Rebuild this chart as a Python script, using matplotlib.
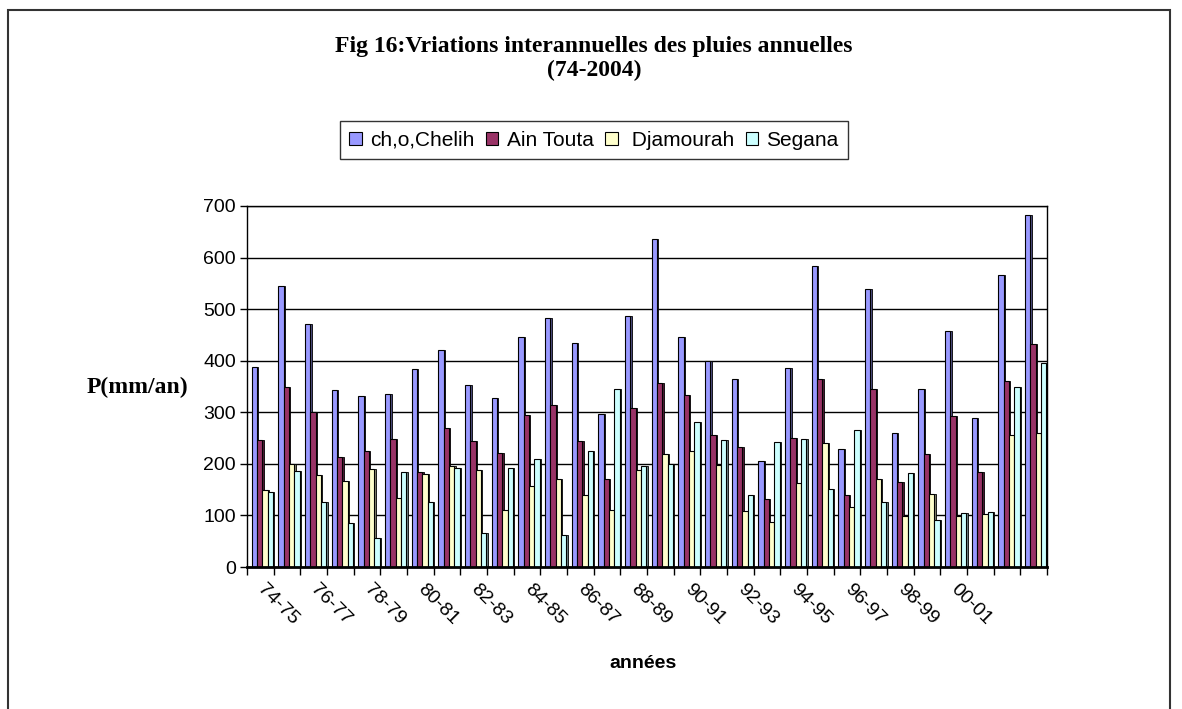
import numpy as np
import matplotlib
matplotlib.use("Agg")
import matplotlib.pyplot as plt
from matplotlib.patches import Patch, Rectangle
from matplotlib.transforms import ScaledTranslation

years = ["74-75", "75-76", "76-77", "77-78", "78-79", "79-80", "80-81", "81-82",
         "82-83", "83-84", "84-85", "85-86", "86-87", "87-88", "88-89", "89-90",
         "90-91", "91-92", "92-93", "93-94", "94-95", "95-96", "96-97", "97-98",
         "98-99", "99-00", "00-01", "01-02", "02-03", "03-04"]

chelih = [388, 545, 471, 343, 331, 335, 383, 420, 353, 327, 446, 483, 434, 296,
          487, 636, 446, 399, 364, 206, 385, 584, 228, 539, 259, 346, 458, 288,
          566, 682]
ain_touta = [246, 349, 300, 213, 224, 248, 184, 269, 244, 221, 295, 314, 244, 171,
             309, 356, 333, 255, 232, 132, 251, 365, 140, 345, 165, 220, 292, 185,
             361, 432]
djamourah = [150, 200, 178, 167, 190, 134, 180, 196, 189, 110, 157, 171, 139, 110,
             189, 220, 224, 198, 108, 87, 163, 240, 117, 170, 98, 142, 98, 103,
             255, 259]
segana = [145, 187, 127, 86, 57, 184, 126, 191, 66, 191, 209, 62, 225, 346,
          195, 200, 282, 247, 140, 242, 248, 151, 265, 127, 182, 92, 104, 106,
          350, 396]

# name, values, face colour, side (shadow) colour
series = [("ch,o,Chelih", chelih, "#9999FF", "#4D4D80"),
          ("Ain Touta", ain_touta, "#993366", "#4D1A33"),
          (" Djamourah", djamourah, "#FFFFCC", "#80806A"),
          ("Segana", segana, "#CCFFFF", "#6A8080")]

W, H = 1182, 709
fig = plt.figure(figsize=(W / 100, H / 100), dpi=100)
fig.patch.set_facecolor("white")

# outer chart frame
fig.add_artist(Rectangle((8 / W, -0.1), 1162 / W, 1.1 - 10 / H, transform=fig.transFigure,
                         fill=False, edgecolor="#333333", linewidth=1.5))

ax = fig.add_axes([247 / W, 1 - 567 / H, 800 / W, 361 / H])

x = np.arange(len(years))
bw = 0.2
for k, (name, vals, col, side) in enumerate(series):
    # fake 3d: dark side face behind the front face
    ax.bar(x + 0.27 + k * bw + 0.06, vals, width=bw, color=side, edgecolor="black",
           linewidth=0.6, zorder=3 + 2 * k)
    ax.bar(x + 0.27 + k * bw, vals, width=bw, color=col, edgecolor="black",
           linewidth=0.8, zorder=4 + 2 * k)

ax.set_xlim(0, len(years))
ax.set_ylim(0, 700)
ax.set_yticks(np.arange(0, 701, 100))
ax.yaxis.grid(True, color="black", linewidth=1, zorder=0)
ax.set_axisbelow(True)
for s in ax.spines.values():
    s.set_color("black")
    s.set_linewidth(1)
ax.spines["bottom"].set_linewidth(2)
ax.spines["bottom"].set_zorder(20)

ax.set_xticks(np.arange(len(years) + 1), minor=True)
ax.set_xticks(x[0:28:2] + 0.5)
ax.set_xticklabels(years[0:28:2], rotation=-45, ha="left", va="top",
                   rotation_mode="anchor", fontsize=14, family="Liberation Sans")
ax.tick_params(axis="x", which="major", length=0, pad=10)
ax.tick_params(axis="x", which="minor", length=6, width=1, direction="out")
ax.tick_params(axis="y", length=5, width=1, direction="out", labelsize=14, pad=3)
for t in ax.get_yticklabels():
    t.set_family("Liberation Sans")
off = ScaledTranslation(6 / 100, 0, fig.dpi_scale_trans)
for t in ax.get_xticklabels():
    t.set_transform(t.get_transform() + off)

fig.text(594 / W, 1 - 52 / H, "Fig 16:Vriations interannuelles des pluies annuelles",
         ha="center", va="baseline", fontsize=17, fontweight="bold", family="Liberation Serif")
fig.text(594 / W, 1 - 76 / H, "(74-2004)", ha="center", va="baseline",
         fontsize=17, fontweight="bold", family="Liberation Serif")

fig.text(137 / W, 1 - 387 / H, "P(mm/an)", ha="center", va="center",
         fontsize=17, fontweight="bold", family="Liberation Serif")
fig.text(643 / W, 1 - 664 / H, "années", ha="center", va="center",
         fontsize=14, fontweight="bold", family="Liberation Sans")

handles = [Patch(facecolor=c, edgecolor="black", linewidth=0.8) for _, _, c, _ in series]
leg = fig.legend(handles, [n for n, _, _, _ in series], loc="center",
                 bbox_to_anchor=(594 / W, 1 - 140 / H), ncol=4, frameon=True,
                 fancybox=False, edgecolor="black",
                 handlelength=0.6, handleheight=0.6, handletextpad=0.4,
                 columnspacing=0.55, borderpad=0.45, borderaxespad=0,
                 prop={"family": "Liberation Sans", "size": 15})
leg.get_frame().set_linewidth(1)

fig.savefig("out.png", dpi=100, facecolor="white")
